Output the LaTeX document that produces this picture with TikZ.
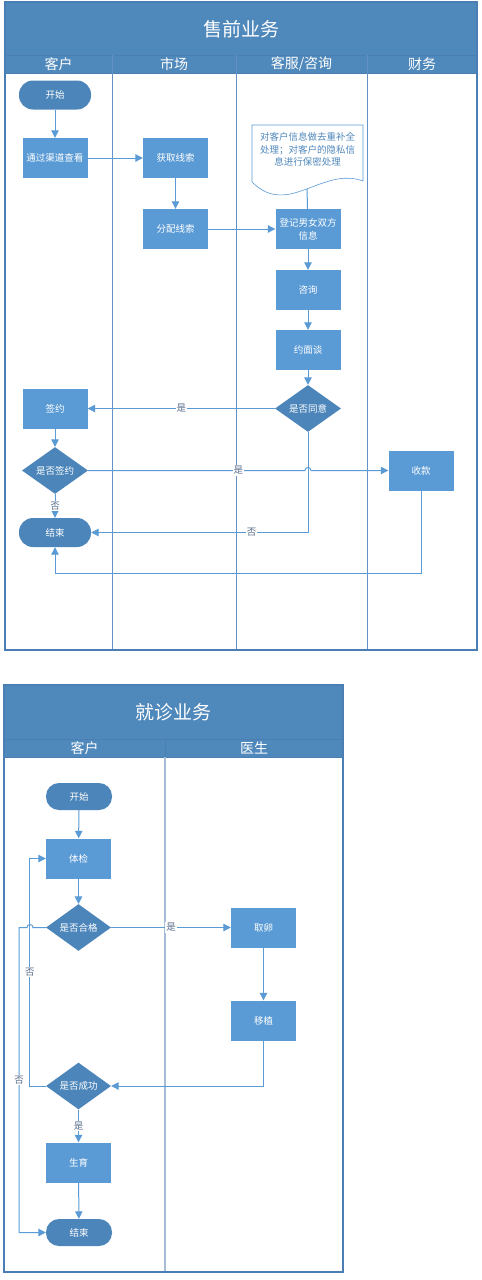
\documentclass[tikz,border=0pt]{standalone}
\usepackage{fontspec}
\setmainfont{Noto Sans CJK SC}
\usetikzlibrary{arrows.meta,shapes.geometric,calc}

\definecolor{band}{RGB}{79,136,187}
\definecolor{boxblue}{RGB}{91,155,213}
\definecolor{termblue}{RGB}{76,133,186}
\definecolor{frameblue}{RGB}{74,126,181}
\definecolor{lineblue}{RGB}{91,155,213}
\definecolor{lanecol}{RGB}{100,145,198}
\definecolor{lanegray}{RGB}{165,189,214}
\definecolor{lbltext}{RGB}{90,110,140}

\begin{document}
\begin{tikzpicture}[x=1pt,y=-1pt,
        proc/.style={fill=boxblue,text=white,minimum width=65pt,minimum height=40pt,inner sep=1pt,align=center,font=\fontsize{9.5}{13}\selectfont},
        term/.style={fill=termblue,text=white,rounded corners=14pt,minimum width=72pt,minimum height=29pt,font=\fontsize{9.5}{13}\selectfont},
        dec/.style={diamond,fill=termblue,text=white,minimum width=66pt,minimum height=39pt,inner sep=0pt,font=\fontsize{9.5}{13}\selectfont},
        flow/.style={draw=lineblue,line width=1pt,-{Triangle[length=7.5pt,width=7.5pt]}},
        plain/.style={draw=lineblue,line width=1pt},
        lbl/.style={fill=white,text=lbltext,inner sep=1pt,font=\fontsize{9.5}{10}\selectfont},
        title/.style={text=white,font=\fontsize{19}{20}\selectfont},
        lanehead/.style={text=white,font=\fontsize{14}{15}\selectfont}]
                \useasboundingbox (0,0) rectangle (482,1280);

                % 售前业务
                \fill[white] (5,2) rectangle (477,650);
                \fill[band] (5,2) rectangle (477,73);
                \draw[frameblue,line width=0.6pt] (5,55) -- (477,55) (5,73) -- (477,73);
                \draw[lanecol,line width=1pt] (112,55) -- (112,650) (236,55) -- (236,650) (367,55) -- (367,650);
                \draw[frameblue,line width=1.5pt] (5,2) rectangle (477,650);
                \node[title] (t1) at (241,29) {售前业务};
                \node[lanehead] (h11) at (58.5,64) {客户};
                \node[lanehead] (h12) at (174,64) {市场};
                \node[lanehead] (h13) at (301.5,64) {客服/咨询};
                \node[lanehead] (h14) at (422,64) {财务};

                \node[term] (st1) at (55,95) {开始};
                \node[proc] (qd) at (55,158) {通过渠道查看};
                \node[proc] (hq) at (175.5,158) {获取线索};
                \node[proc] (fp) at (175.5,229) {分配线索};
                \node[proc] (dj) at (308,229) {登记男女双方\\信息};
                \node[proc] (zx) at (308,290) {咨询};
                \node[proc] (ym) at (308,350) {约面谈};
                \node[dec] (ty) at (308,408.5) {是否同意};
                \node[proc] (qy) at (55,408.5) {签约};
                \node[dec] (sq) at (55,470.5) {是否签约};
                \node[proc] (sk) at (421,470.5) {收款};
                \node[term] (js1) at (55,532.5) {结束};

                \coordinate (bzb) at (307,188);
                \draw[plain] (bzb) -- (dj);
                \draw[fill=white,draw=lineblue,line width=0.6pt] (252,125) -- (363,125) -- (363,181)
                        .. controls (322,166) and (288,218) .. (252,182) -- cycle;
                \node[text=band,align=center,font=\fontsize{9.5}{12.5}\selectfont] (bz) at (307.5,149.5)
                        {对客户信息做去重补全\\处理；对客户的隐私信\\息进行保密处理};

                \draw[flow] (st1) -- (qd);
                \draw[flow] (qd) -- (hq);
                \draw[flow] (hq) -- (fp);
                \draw[flow] (fp) -- (dj);
                \draw[flow] (dj) -- (zx);
                \draw[flow] (zx) -- (ym);
                \draw[flow] (ym) -- (ty);
                \draw[flow] (ty) -- node[lbl] {是} (qy);
                \draw[flow] (ty.south) |- node[lbl,pos=0.63] {否} (js1.east);
                \draw[flow] (qy) -- (sq);
                \draw[flow] (sq) -- node[lbl] {否} (js1);
                \coordinate (hp1) at (ty.south |- sq.east);
                \draw[flow] (sq.east) -- ($(hp1)+(-3,0)$)
                        .. controls ($(hp1)+(-3,-4)$) and ($(hp1)+(3,-4)$) .. ($(hp1)+(3,0)$) -- (sk.west);
                \node[lbl] (l1) at ($(sq.east)!0.5!(sk.west)$) {是};
                \draw[flow] (sk.south) -- ++(0,82.5) -| (js1.south);

                % 就诊业务
                \fill[white] (4,685) rectangle (343,1272);
                \fill[band] (4,685) rectangle (343,757);
                \draw[frameblue,line width=0.6pt] (4,739) -- (343,739) (4,757) -- (343,757);
                \draw[frameblue,line width=1pt] (165,739) -- (165,757);
                \draw[lanegray,line width=1.2pt] (165,757) -- (165,1272);
                \draw[frameblue,line width=1.5pt] (4,685) rectangle (343,1272);
                \node[title] (t2) at (173.5,712) {就诊业务};
                \node[lanehead] (h21) at (84.5,748) {客户};
                \node[lanehead] (h22) at (254,748) {医生};

                \node[term,minimum width=66pt,minimum height=27pt,rounded corners=13pt] (st2) at (79,796.5) {开始};
                \node[proc] (tj) at (78.5,858.5) {体检};
                \node[dec,minimum width=65pt] (hg) at (78.5,927.5) {是否合格};
                \node[proc] (ql) at (263.5,927.5) {取卵};
                \node[proc] (yz) at (263.5,1020.5) {移植};
                \node[dec,minimum width=65pt] (cg) at (78.5,1086) {是否成功};
                \node[proc] (sy) at (78.5,1162.5) {生育};
                \node[term,minimum width=66pt,minimum height=27pt,rounded corners=13pt] (js2) at (79,1232.5) {结束};

                \draw[flow] (st2) -- (tj);
                \draw[flow] (tj) -- (hg);
                \draw[flow] (hg) -- node[lbl] {是} (ql);
                \draw[flow] (ql) -- (yz);
                \draw[flow] (yz.south) |- (cg.east);
                \draw[flow] (cg.west) -- ++(-16,0) |- node[lbl,pos=0.25] {否} (tj.west);
                \coordinate (hp2) at (30,927.5);
                \draw[flow] (hg.west) -- ($(hp2)+(3,0)$)
                        .. controls ($(hp2)+(3,-4)$) and ($(hp2)+(-3,-4)$) .. ($(hp2)+(-3,0)$)
                        -- ++(-8,0) |- node[lbl,pos=0.25] {否} (js2.west);
                \draw[flow] (cg) -- node[lbl] {是} (sy);
                \draw[flow] (sy) -- (js2);
\end{tikzpicture}
\end{document}
